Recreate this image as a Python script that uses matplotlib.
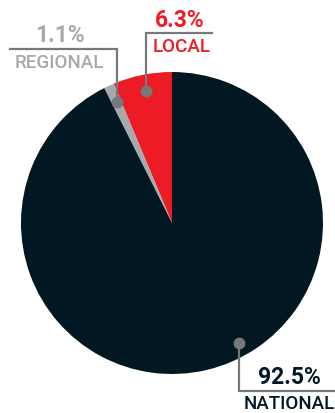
import numpy as np
import matplotlib
matplotlib.use("Agg")
import matplotlib.pyplot as plt

# slice data, counterclockwise from 12 o'clock
labels = ["LOCAL", "REGIONAL", "NATIONAL"]
shares = [6.3, 1.1, 92.5]
colors = ["#ED1C24", "#A7A9AC", "#011822"]
text_colors = ["#ED1C24", "#A7A9AC", "#011822"]

W, H = 335, 414
line_col = "#77787B"

fig = plt.figure(figsize=(W / 100, H / 100), dpi=100)
ax = fig.add_axes([0, 0, 1, 1])

cx, cy, r = 172, H - 224, 151
wedges, _ = ax.pie(shares, colors=colors, startangle=90, counterclock=True,
                   center=(cx, cy), radius=r, frame=True,
                   wedgeprops=dict(linewidth=0))
ax.set_xlim(0, W)
ax.set_ylim(0, H)
ax.set_aspect("equal")
ax.axis("off")

# dot angle / radius fraction and label placement (pixels from top-left)
dot_ang = [None, None, 299.3]
dot_frac = [0.89, 0.88, 0.91]
elbow = [(146, 33.5), (113.7, 50), (239.3, 392)]
hline_end = [211.7, 10, 335]
pct_pos = [(180, 20.5), (60, 35.5), (289, 378)]
lab_pos = [(182, 47), (59, 63.5), (289, 404)]

for i, w in enumerate(wedges):
    ang = dot_ang[i] if dot_ang[i] is not None else (w.theta1 + w.theta2) / 2
    a = np.deg2rad(ang)
    dx = cx + dot_frac[i] * r * np.cos(a)
    dy = cy + dot_frac[i] * r * np.sin(a)
    ex, ey = elbow[i][0], H - elbow[i][1]
    ax.plot([dx, dx, hline_end[i]], [dy, ey, ey], color=line_col, lw=1.6,
            solid_joinstyle="miter", zorder=3)
    ax.plot(dx, dy, "o", color=line_col, ms=8.5, mew=0, zorder=4)
    px, py = pct_pos[i]
    ax.text(px, H - py, f"{shares[i]}%", ha="center", va="center",
            fontsize=16.5, fontweight="bold", color=text_colors[i],
            family="Roboto")
    lx, ly = lab_pos[i]
    ax.text(lx, H - ly, labels[i], ha="center", va="center",
            fontsize=13.5, fontweight="medium", color=text_colors[i],
            family="Roboto")

fig.savefig("out.png", dpi=100)
